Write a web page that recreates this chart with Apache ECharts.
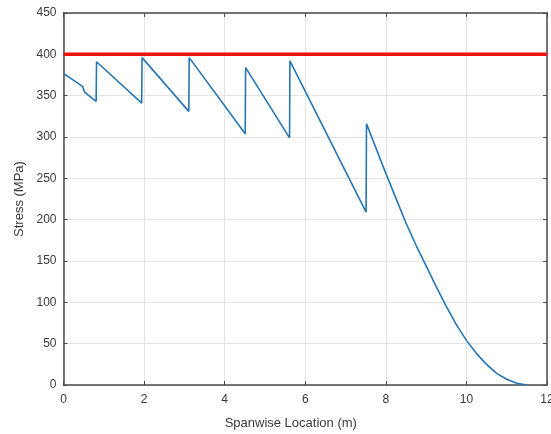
<!DOCTYPE html>
<html>
<head>
<meta charset="utf-8">
<script src="https://cdn.jsdelivr.net/npm/echarts@6/dist/echarts.min.js"></script>
<style>html,body{margin:0;padding:0;background:#fff;overflow:hidden;width:551px;height:434px;}#c{width:551px;height:434px;}</style>
</head>
<body>
<div id="c"></div>
<script>
// Spanwise location (m) and stress (MPa) of the blue curve
const spanX = [0, 0.48, 0.50, 0.53, 0.81, 0.82, 1.94, 1.95, 3.11, 3.12, 4.51, 4.52, 5.61, 5.62, 7.51, 7.52,
  8.0, 8.25, 8.5, 8.75, 9.0, 9.25, 9.5, 9.75, 10.0, 10.25, 10.5, 10.75, 11.0, 11.25, 11.5];
const stressY = [377, 361, 357, 354, 343, 391, 341, 396, 331, 396, 304, 384, 299, 392, 209, 316,
  256, 226, 196, 169, 144, 119, 95, 73, 54, 38, 25, 14, 7, 2, 0];
// Allowable stress limit (red line)
const limitX = [0, 12];
const limitY = [400, 400];
const xTicks = [0, 2, 4, 6, 8, 10, 12];
const yTicks = [0, 50, 100, 150, 200, 250, 300, 350, 400, 450];

const curve = spanX.map((x, i) => [x, stressY[i]]);
const limit = limitX.map((x, i) => [x, limitY[i]]);

const chart = echarts.init(document.getElementById('c'), null, {renderer: 'canvas', width: 551, height: 434});
const axisCol = '#4a4a4a';
const labCol = '#3a3a3a';
const font = 'Liberation Sans, Arial, sans-serif';
chart.setOption({
  animation: false,
  backgroundColor: '#fff',
  grid: {left: 63.5, right: 4, top: 13, bottom: 49, containLabel: false, outerBoundsMode: 'none'},
  xAxis: [{
    type: 'value', min: xTicks[0], max: xTicks[xTicks.length - 1], interval: 2,
    name: 'Spanwise Location (m)', nameLocation: 'middle', nameGap: 32,
    nameTextStyle: {color: labCol, fontSize: 13, fontFamily: font, padding: [0, 29, 0, 0]},
    axisLine: {show: true, lineStyle: {color: axisCol, width: 1.5}},
    axisTick: {show: true, inside: true, length: 4, lineStyle: {color: axisCol, width: 1}},
    axisLabel: {color: labCol, fontSize: 12, fontFamily: font, margin: 9},
    splitLine: {show: true, lineStyle: {color: '#e4e4e4', width: 1}}
  }, {
    type: 'value', position: 'top', min: 0, max: 12, interval: 2,
    axisLine: {show: true, onZero: false, lineStyle: {color: axisCol, width: 1.5}},
    axisTick: {show: true, inside: true, length: 4, lineStyle: {color: axisCol, width: 1}},
    axisLabel: {show: false}, splitLine: {show: false}
  }],
  yAxis: [{
    type: 'value', min: yTicks[0], max: yTicks[yTicks.length - 1], interval: 50,
    name: 'Stress (MPa)', nameLocation: 'middle', nameGap: 38,
    nameTextStyle: {color: labCol, fontSize: 13, fontFamily: font},
    axisLine: {show: true, lineStyle: {color: axisCol, width: 1.5}},
    axisTick: {show: true, inside: true, length: 4, lineStyle: {color: axisCol, width: 1}},
    axisLabel: {color: labCol, fontSize: 12, fontFamily: font, margin: 7},
    splitLine: {show: true, lineStyle: {color: '#e4e4e4', width: 1}}
  }, {
    type: 'value', position: 'right', min: 0, max: 450, interval: 50,
    axisLine: {show: true, onZero: false, lineStyle: {color: axisCol, width: 1.5}},
    axisTick: {show: true, inside: true, length: 4, lineStyle: {color: axisCol, width: 1}},
    axisLabel: {show: false}, splitLine: {show: false}
  }],
  series: [{
    type: 'line', data: limit, symbol: 'none', silent: true,
    lineStyle: {color: '#f01010', width: 3.5}, z: 3
  }, {
    type: 'line', data: curve, symbol: 'none', silent: true, smooth: false,
    lineStyle: {color: '#2776b4', width: 1.6}, z: 4
  }]
});
</script>
</body>
</html>
